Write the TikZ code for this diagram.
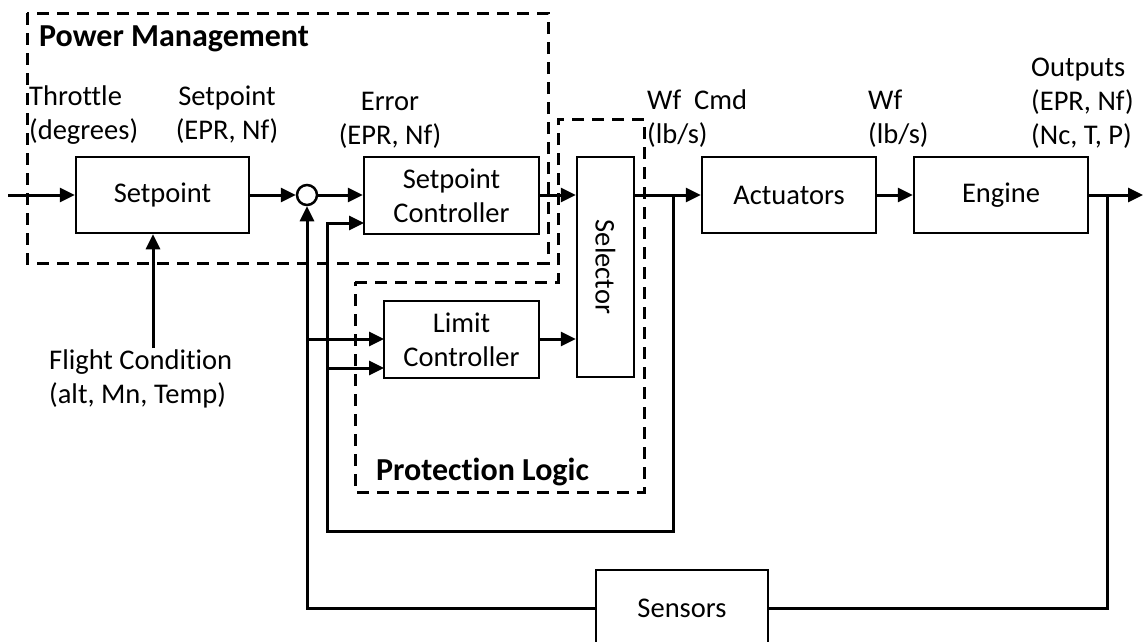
\documentclass[tikz,border=0pt]{standalone}
\usepackage{fontspec}
\setmainfont{Carlito}[Ligatures={NoCommon}]
\usetikzlibrary{arrows.meta}
\tikzset{
  blk/.style={draw, line width=2.5pt, inner sep=0pt, align=center, font=\fontsize{28.5}{34}\selectfont},
  lbl/.style={inner sep=0pt, font=\fontsize{28.5}{34}\selectfont},
  ttl/.style={inner sep=0pt, font=\fontsize{32}{36}\selectfont\bfseries},
  arr/.style={line width=3pt, -{Triangle[length=15pt,width=14pt]}},
  wire/.style={line width=3pt},
  grp/.style={line width=3pt, dash pattern=on 12pt off 8pt},
}
\begin{document}
\begin{tikzpicture}[x=1pt,y=-1pt]
\useasboundingbox (0,0) rectangle (1143,641);
% groups
\draw[grp] (27,13) rectangle (548,263);
\draw[grp] (355,282) -- (558,282) -- (558,119) -- (644,119) -- (644,492) -- (355,492) -- cycle;
\node[ttl, anchor=west] (pm) at (39,39) {Power Management};
\node[ttl, anchor=west] (pl) at (376,472) {Protection Logic};
% blocks
\node[blk, minimum width=173pt, minimum height=76pt] (sp) at (162.5,195) {Setpoint};
\node[draw, line width=2.5pt, circle, minimum size=20pt, inner sep=0pt] (sum) at (307,195) {};
\node[blk, minimum width=175pt, minimum height=77pt] (spc) at (451.5,195.5) {Setpoint\\Controller};
\node[blk, minimum width=57pt, minimum height=220pt] (sel) at (605.5,267) {};
\node[lbl, rotate=-90] (seltxt) at (sel.center) {Selector};
\node[blk, minimum width=155pt, minimum height=77pt] (lc) at (461.5,339.5) {Limit\\Controller};
\node[blk, minimum width=174pt, minimum height=76pt] (act) at (789,195) {Actuators};
\node[blk, minimum width=174pt, minimum height=76pt] (eng) at (1001,195) {Engine};
\node[blk, minimum width=172pt, minimum height=76pt] (sens) at (682,608) {Sensors};
% labels
\node[lbl, anchor=west, align=left] (thr) at (29,115) {Throttle\\(degrees)};
\node[lbl, align=center] (spl) at (227,115) {Setpoint\\(EPR, Nf)};
\node[lbl, align=center] (err) at (390,120) {Error\\(EPR, Nf)};
\node[lbl, anchor=west, align=left] (wfc) at (647,119) {Wf\ \ Cmd\\(lb/s)};
\node[lbl, anchor=west, align=left] (wf) at (868,119) {Wf\\(lb/s)};
\node[lbl, anchor=west, align=left] (outp) at (1031,103) {Outputs\\(EPR, Nf)\\(Nc, T, P)};
\node[lbl, anchor=west, align=left] (fc) at (49,379) {Flight Condition\\(alt, Mn, Temp)};
% coordinates
\coordinate (in) at (8,195);
\coordinate (out) at (1143,195);
\coordinate (jout) at (1107,195);
\coordinate (jwf) at (673,195);
\coordinate (fbL) at (327,531);
\coordinate (spcin2) at (364,223);
\coordinate (lcin1) at (384,339);
\coordinate (lcin2) at (384,368);
\coordinate (fctop) at (153,348);
% connectors
\draw[arr] (in) -- (sp.west);
\draw[arr] (sp.east) -- (sum.west);
\draw[arr] (sum.east) -- (spc.west |- sum.east);
\draw[arr] (spc.east |- sum.east) -- (sel.west |- sum.east);
\draw[arr] (lc.east |- lcin1) -- (sel.west |- lcin1);
\draw[arr] (sel.east |- act.west) -- (act.west);
\draw[arr] (act.east) -- (eng.west);
\draw[arr] (eng.east) -- (out);
\draw[wire] (jout) |- (sens.east);
\draw[arr] (sens.west) -| (sum.south);
\draw[arr] (sum.south |- lcin1) -- (lcin1);
\draw[arr] (jwf) |- (fbL) |- (spcin2);
\draw[arr] (fbL |- lcin2) -- (lcin2);
\draw[arr] (fctop) -- (fctop |- sp.south);
\end{tikzpicture}
\end{document}
